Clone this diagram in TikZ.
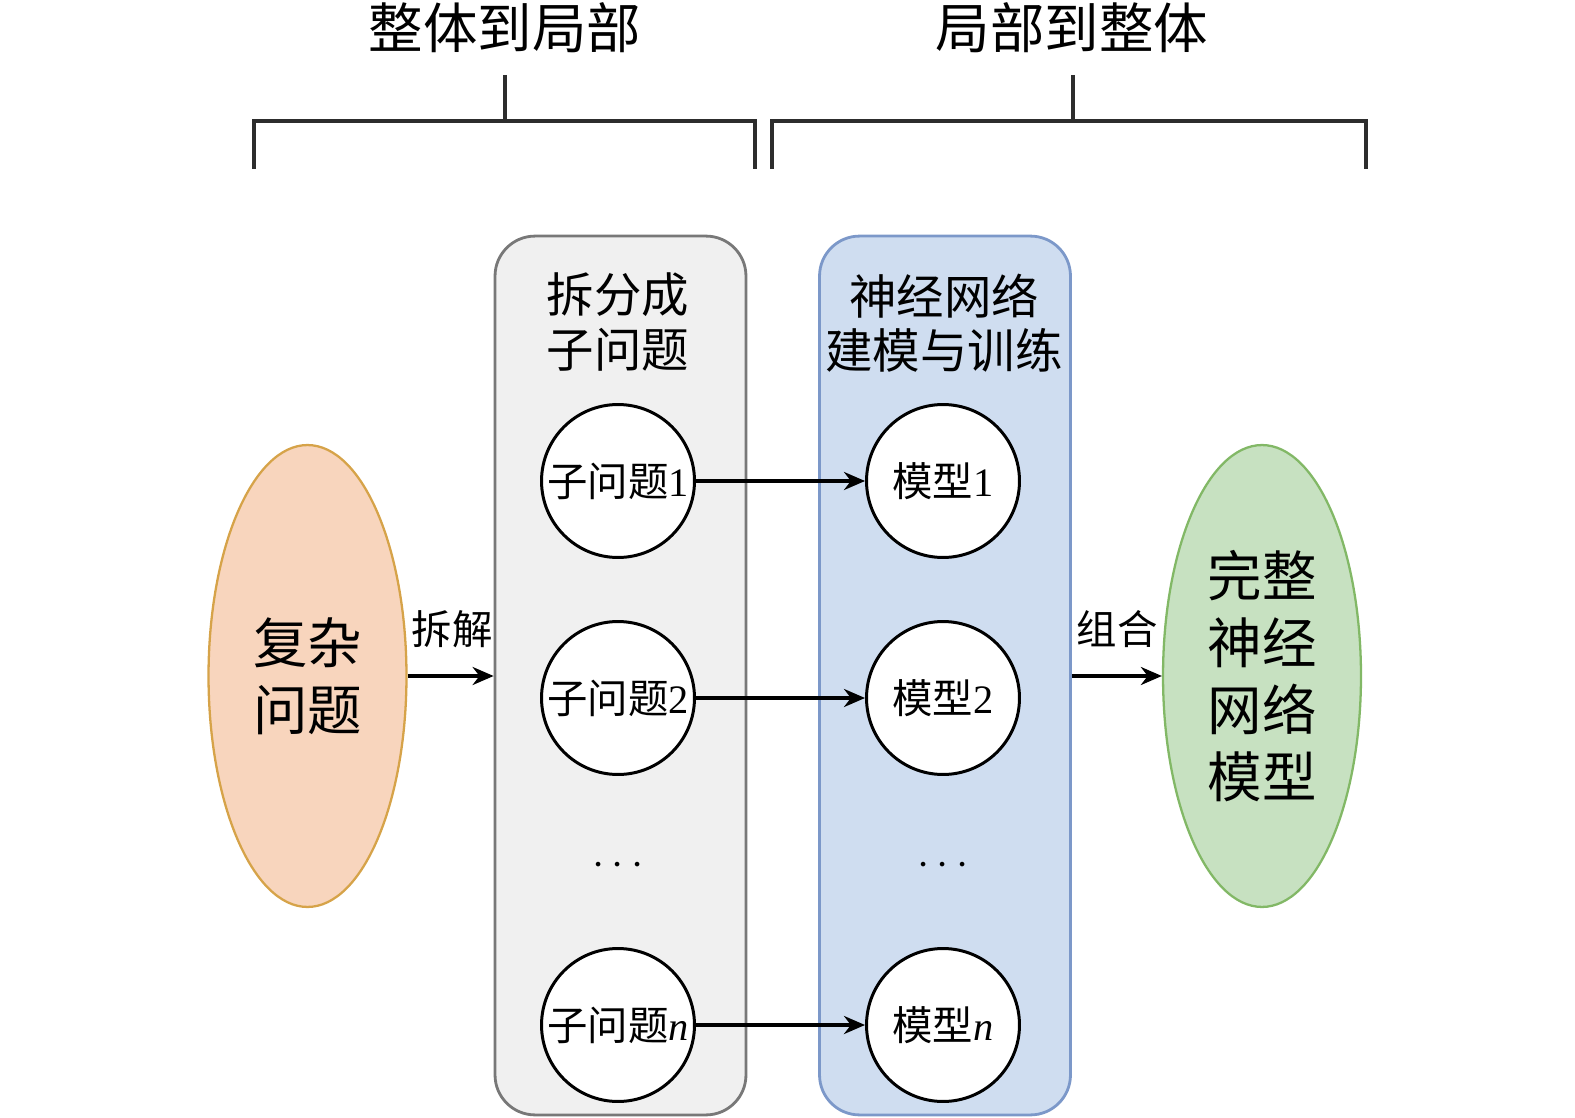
\documentclass[tikz,border=0pt]{standalone}
\usepackage{fontspec}
\setmainfont{Liberation Serif}
\newfontfamily\cjk{Noto Sans CJK SC}
\usetikzlibrary{shapes.geometric,arrows.meta}
\definecolor{peachfill}{RGB}{248,213,189}
\definecolor{peachdraw}{RGB}{214,163,73}
\definecolor{greenfill}{RGB}{199,225,193}
\definecolor{greendraw}{RGB}{130,184,102}
\definecolor{bluefill}{RGB}{207,221,240}
\definecolor{bluedraw}{RGB}{124,152,201}
\definecolor{grayfill}{RGB}{240,240,240}
\definecolor{graydraw}{RGB}{120,120,120}
\definecolor{brk}{RGB}{45,45,45}
\tikzset{
  titletext/.style={font=\fontsize{31}{31}\selectfont\cjk, inner sep=0pt},
  boxtitle/.style={font=\fontsize{27}{31}\selectfont\cjk, align=center, inner sep=0pt},
  panel/.style={rectangle, rounded corners=0.8cm, line width=1.6pt, minimum width=5.02cm, minimum height=17.58cm, inner sep=0pt},
  bigell/.style={ellipse, line width=1.3pt, minimum width=3.96cm, minimum height=9.24cm, inner sep=0pt, align=center, font=\fontsize{31}{38}\selectfont\cjk},
  ball/.style={circle, draw=black, fill=white, line width=1.7pt, minimum size=3.06cm, inner sep=0pt, font=\fontsize{23}{23}\selectfont},
  conn/.style={line width=2.1pt, -{Stealth[length=0.42cm,width=0.36cm]}},
  lbl/.style={font=\fontsize{23}{23}\selectfont\cjk, inner sep=0pt},
  bracket/.style={draw=brk, line width=2.4pt},
  dotsnode/.style={font=\fontsize{28}{28}\selectfont, inner sep=0pt}
}
\begin{document}
\begin{tikzpicture}[x=0.02cm,y=-0.02cm]
\useasboundingbox (0,0) rectangle (1575,1118);
% titles
\node[titletext] (t1) at (505,28) {整体到局部};
\node[titletext] (t2) at (1072,28) {局部到整体};
% brackets
\draw[bracket] (505,75) -- (505,121);
\draw[bracket] (254,169) -- (254,121) -- (755,121) -- (755,169);
\draw[bracket] (1073,75) -- (1073,121);
\draw[bracket] (772,169) -- (772,121) -- (1366,121) -- (1366,169);
% panels
\node[panel, draw=graydraw, fill=grayfill] (box1) at (620.5,675.5) {};
\node[panel, draw=bluedraw, fill=bluefill] (box2) at (945,675.5) {};
\node[boxtitle] (bt1) at (618,322) {拆分成\\子问题};
\node[boxtitle] (bt2) at (944,323) {神经网络\\建模与训练};
% ellipses
\node[bigell, draw=peachdraw, fill=peachfill] (e1) at (307.5,676) {复杂\\问题};
\node[bigell, draw=greendraw, fill=greenfill] (e2) at (1262,676) {完整\\神经\\网络\\模型};
% circles
\node[ball] (s1) at (618,481) {{\cjk 子问题}1};
\node[ball] (s2) at (618,698) {{\cjk 子问题}2};
\node[ball] (sn) at (618,1025) {{\cjk 子问题}\textit{n}};
\node[ball] (m1) at (943,481) {{\cjk 模型}1};
\node[ball] (m2) at (943,698) {{\cjk 模型}2};
\node[ball] (mn) at (943,1025) {{\cjk 模型}\textit{n}};
\node[dotsnode] (d1) at (618,866) {$\cdots$};
\node[dotsnode] (d2) at (943,866) {$\cdots$};
% connectors
\draw[conn] (s1.east) -- (m1.west);
\draw[conn] (s2.east) -- (m2.west);
\draw[conn] (sn.east) -- (mn.west);
\draw[conn] (e1.east) -- (e1.east -| box1.west);
\draw[conn] (e2.west -| box2.east) -- (e2.west);
\node[lbl] (l1) at (452,629) {拆解};
\node[lbl] (l2) at (1117,629) {组合};
\end{tikzpicture}
\end{document}
